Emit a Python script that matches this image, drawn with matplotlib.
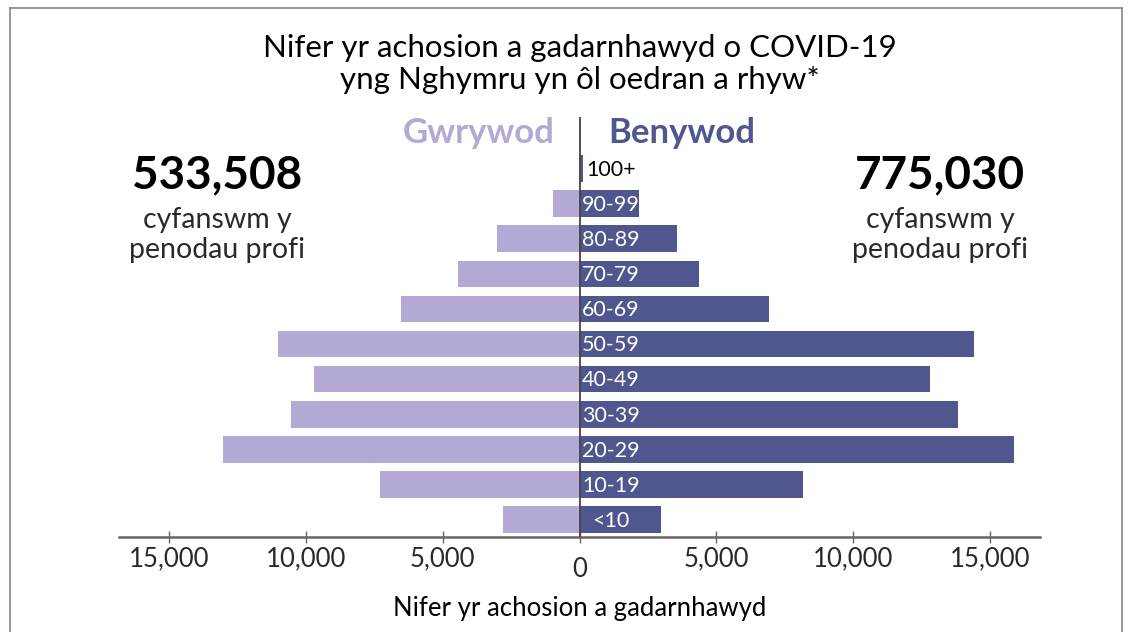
import matplotlib
matplotlib.use("Agg")
import matplotlib.pyplot as plt
from matplotlib.lines import Line2D
from matplotlib.transforms import ScaledTranslation
import numpy as np

plt.rcParams['font.family'] = ['Lato', 'DejaVu Sans']

# ---- data ----
age_groups = ["<10", "10-19", "20-29", "30-39", "40-49", "50-59",
              "60-69", "70-79", "80-89", "90-99", "100+"]
male = [2800, 7290, 13030, 10550, 9710, 11020, 6530, 4450, 3030, 980, 30]
female = [2980, 8160, 15890, 13840, 12810, 14420, 6930, 4370, 3550, 2180, 140]
ticks = [-15000, -10000, -5000, 0, 5000, 10000, 15000]
title_lines = ["Nifer yr achosion a gadarnhawyd o COVID-19",
               "yng Nghymru yn ôl oedran a rhyw*"]
male_label = "Gwrywod"
female_label = "Benywod"
male_total = "533,508"
female_total = "775,030"
total_caption = "cyfanswm y\npenodau profi"
xlabel = "Nifer yr achosion a gadarnhawyd"

male_color = "#b4a9d4"
female_color = "#50568e"

W, H = 1133, 632
fig = plt.figure(figsize=(W / 100, H / 100), dpi=100)

def fx(px):
    return px / W

def fy(py):
    return 1 - py / H

ax = fig.add_axes([fx(119), fy(537), fx(1040) - fx(119), fy(117) - fy(537)])

y = np.arange(len(age_groups))
ax.barh(y, [-v for v in male], height=0.76, color=male_color, zorder=2)
ax.barh(y, female, height=0.76, color=female_color, zorder=2)

ax.set_xlim(-16840, 16840)
ax.set_ylim(-0.5, 11.47)

ax.axvline(0, color="#444444", lw=1.3, zorder=3)

# age labels
for i, lab in enumerate(age_groups):
    col = "black" if female[i] < 1000 else "white"
    ax.annotate(lab, xy=(0, i), xytext=(22.5, -1), textcoords="offset points",
                ha="center", va="center", fontsize=15.5, color=col, zorder=4)

for s in ["top", "right", "left"]:
    ax.spines[s].set_visible(False)
ax.spines["bottom"].set_color("#666666")
ax.spines["bottom"].set_linewidth(1.8)
ax.set_yticks([])
ax.set_xticks(ticks)
ax.set_xticklabels([f"{abs(t):,}" for t in ticks])
ax.tick_params(axis="x", direction="inout", length=9, width=1, color="#666666",
               labelsize=18.5, pad=2, labelcolor="#2a2a2a")
for lbl in ax.get_xticklabels():
    if lbl.get_text() == "0":
        lbl.set_transform(lbl.get_transform() + ScaledTranslation(0, -8 / 72, fig.dpi_scale_trans))

ax.set_xlabel(xlabel, fontsize=18.5, labelpad=10)

# title
x0 = fx(580)
fig.text(x0, fy(48), title_lines[0], ha="center", va="center", fontsize=22.5)
fig.text(x0, fy(80), title_lines[1], ha="center", va="center", fontsize=22.5)

# sex headers
fig.text(fx(555), fy(133), male_label, ha="right", va="center", fontsize=25,
         fontweight="bold", color=male_color)
fig.text(fx(608), fy(133), female_label, ha="left", va="center", fontsize=25,
         fontweight="bold", color=female_color)

# totals
for cx, tot in [(217, male_total), (940, female_total)]:
    fig.text(fx(cx), fy(175), tot, ha="center", va="center", fontsize=33,
             fontweight="bold", color="black")
    fig.text(fx(cx), fy(235), total_caption, ha="center", va="center",
             fontsize=20.5, color="#2a2a2a", linespacing=1.15)

# frame border
bc = "#888888"
fig.add_artist(Line2D([fx(10), fx(1122)], [fy(8), fy(8)], color=bc, lw=1.2))
fig.add_artist(Line2D([fx(10), fx(10)], [fy(8), 0], color=bc, lw=1.2))
fig.add_artist(Line2D([fx(1122), fx(1122)], [fy(8), 0], color=bc, lw=1.2))

fig.savefig("out.png", dpi=100)
